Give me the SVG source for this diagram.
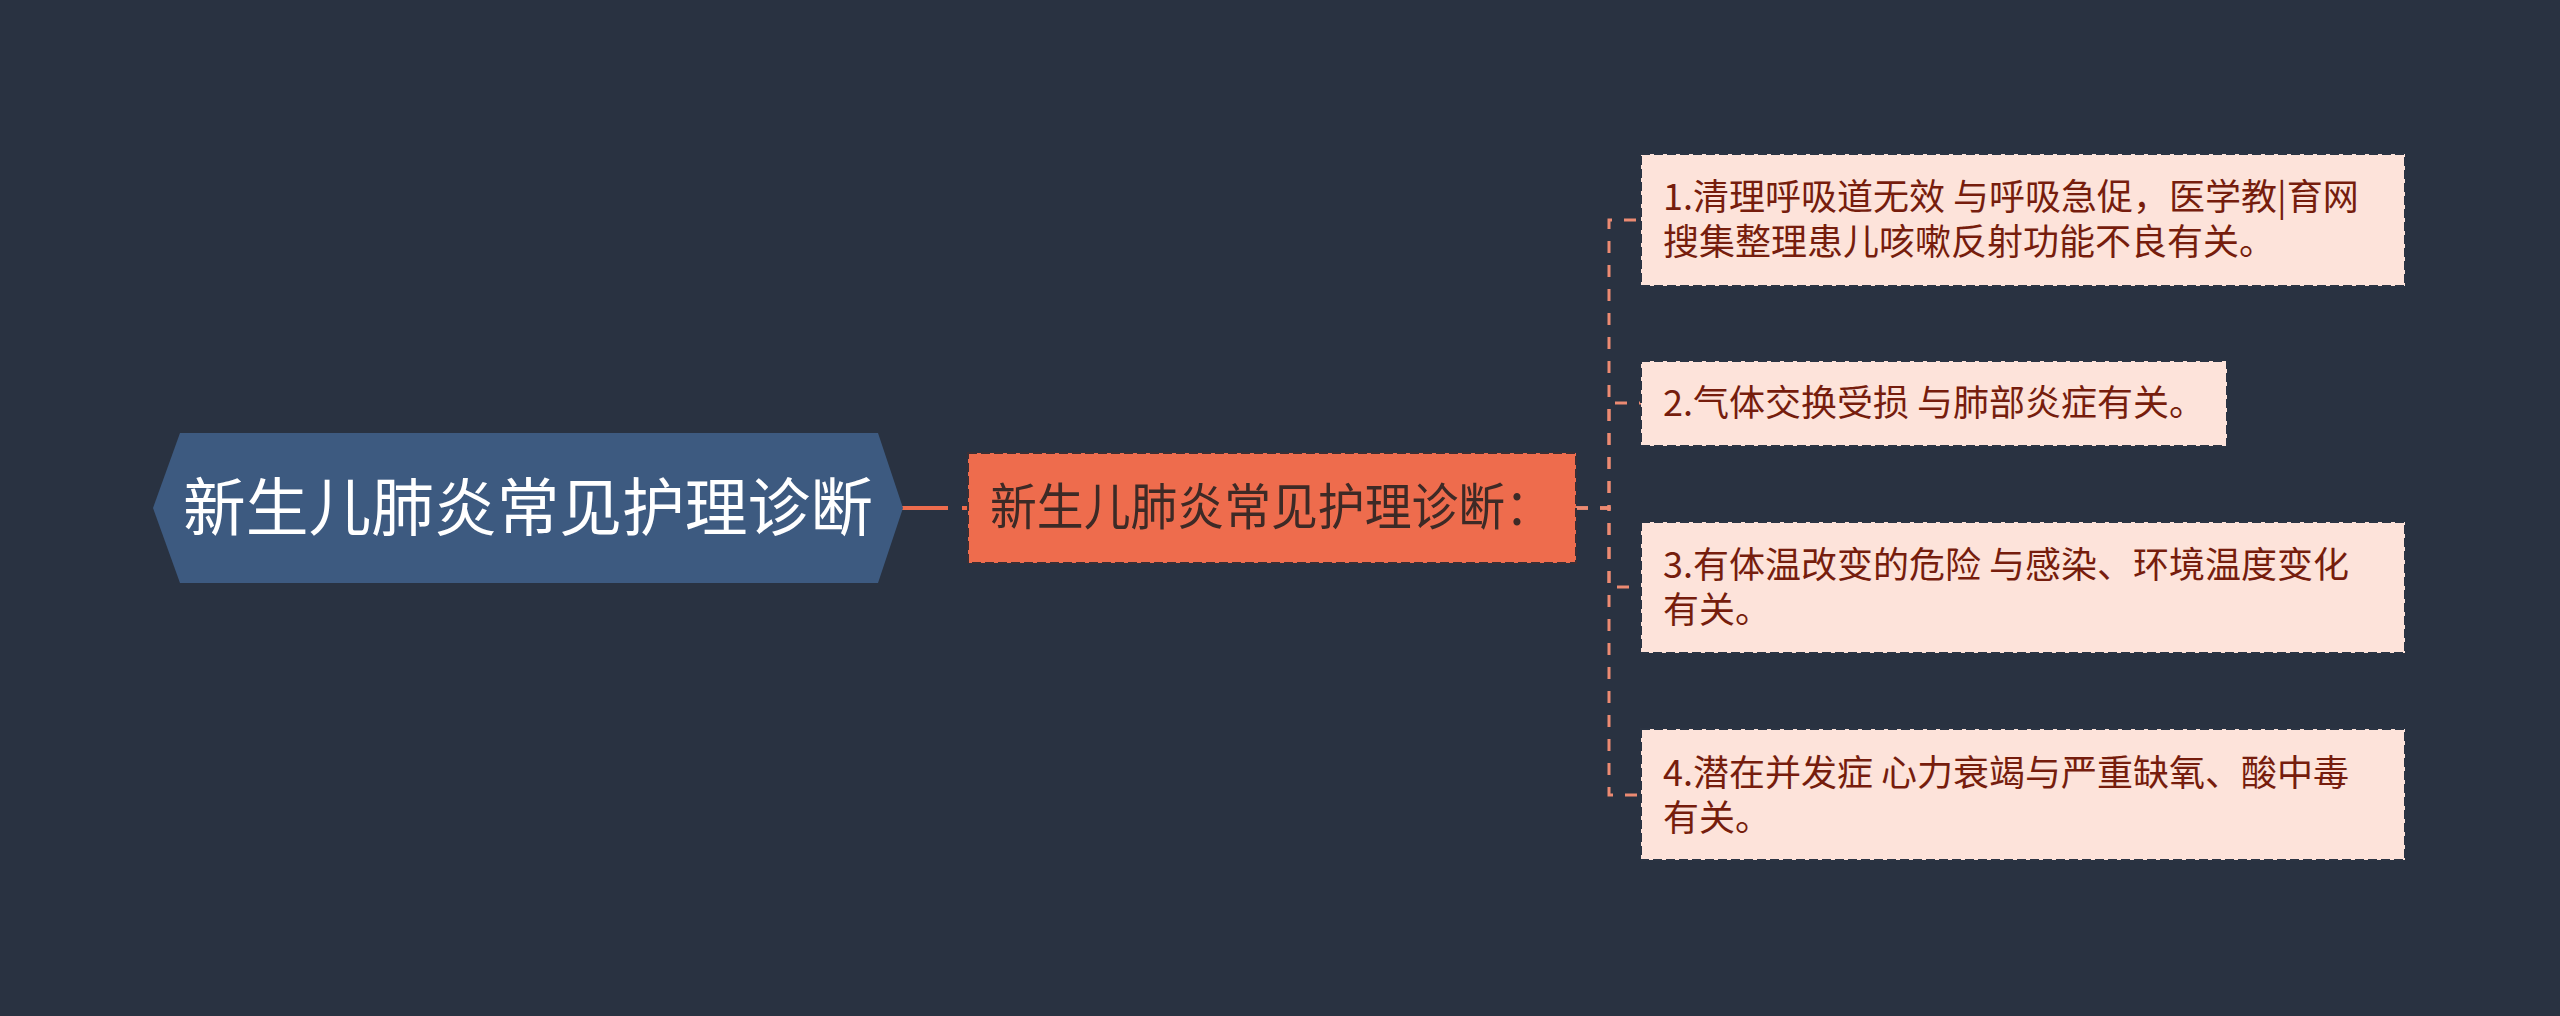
<svg xmlns="http://www.w3.org/2000/svg" width="2560" height="1016" viewBox="0 0 2560 1016">
<style>
text{font-family:"Noto Sans CJK SC","Noto Sans",sans-serif}
.leaf rect{fill:#fde3da;stroke:#2b3443;stroke-width:2;stroke-dasharray:9 4}
.leaf text{font-size:36px;fill:#761d0d}
.link{fill:none;stroke:#ec8a72;stroke-width:3;stroke-dasharray:12 12}
</style>
<rect x="0" y="0" width="2560" height="1016" fill="#293241"/>
<g id="connectors">
<path d="M902,508 H948 M962,508 H968" fill="none" stroke="#ee6c4d" stroke-width="4"/>
<path class="link" d="M1576,508 H1609 V220 H1641"/>
<path class="link" d="M1576,508 H1609 V403 H1641"/>
<path class="link" d="M1576,508 H1609 V587 H1641"/>
<path class="link" d="M1576,508 H1609 V795 H1641"/>
</g>
<g id="root">
<polygon points="153,508 180,433 878,433 903,508 878,583 180,583" fill="#3d5a80"/>
<text x="183" y="530" font-size="63" fill="#ffffff" textLength="690" lengthAdjust="spacingAndGlyphs">新生儿肺炎常见护理诊断</text>
</g>
<g id="branch">
<rect x="968" y="453" width="608" height="110" fill="#ee6c4d" stroke="#3a2f35" stroke-width="2" stroke-dasharray="9 4"/>
<text x="990" y="525" font-size="50" fill="#3d2a26" textLength="562" lengthAdjust="spacingAndGlyphs">新生儿肺炎常见护理诊断：</text>
</g>
<g id="leaf1" class="leaf">
<rect x="1641" y="154" width="764" height="132"/>
<text x="1663" y="210">1.清理呼吸道无效 与呼吸急促，医学教|育网</text>
<text x="1663" y="255">搜集整理患儿咳嗽反射功能不良有关。</text>
</g>
<g id="leaf2" class="leaf">
<rect x="1641" y="361" width="586" height="85"/>
<text x="1663" y="416">2.气体交换受损 与肺部炎症有关。</text>
</g>
<g id="leaf3" class="leaf">
<rect x="1641" y="522" width="764" height="131"/>
<text x="1663" y="578">3.有体温改变的危险 与感染、环境温度变化</text>
<text x="1663" y="623">有关。</text>
</g>
<g id="leaf4" class="leaf">
<rect x="1641" y="729" width="764" height="131"/>
<text x="1663" y="786">4.潜在并发症 心力衰竭与严重缺氧、酸中毒</text>
<text x="1663" y="831">有关。</text>
</g>
</svg>
